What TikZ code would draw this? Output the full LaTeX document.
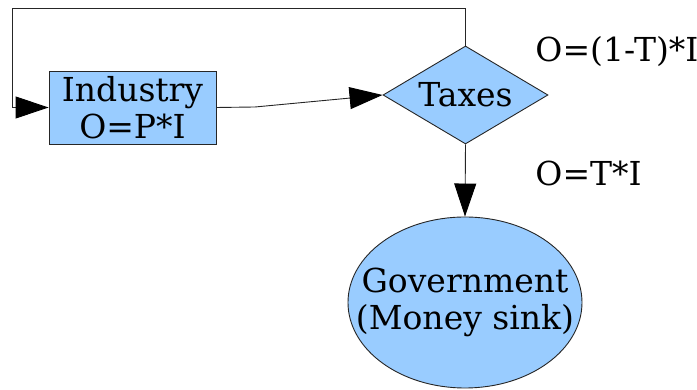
\documentclass[tikz,border=0pt]{standalone}
\usepackage{fontspec}
\setmainfont{DejaVu Serif}
\usetikzlibrary{positioning, arrows.meta, shapes.geometric}

\definecolor{boxblue}{HTML}{99CCFF}

\tikzset{
    block/.style={draw=black!85, fill=boxblue, align=center, inner sep=0pt},
    flow/.style={draw=black!85, line width=0.9pt, -{Triangle[length=33pt, width=22pt, color=black]}},
    flowtext/.style={anchor=west, inner sep=0pt}
}

\begin{document}
\begin{tikzpicture}[x=1pt, y=1pt, line width=0.9pt,
    font=\fontsize{33}{37}\selectfont]
    \useasboundingbox (0,0) rectangle (697,390);

    % blocks
    \node[block, rectangle, minimum width=167pt, minimum height=73pt]
        (industry) at (132.5,282.5) {Industry\\O=P*I};
    \node[block, diamond, aspect=1.68, minimum width=165pt, minimum height=98pt]
        (taxes) at (465.5,295) {Taxes};
    \node[block, ellipse, inner xsep=-27pt, minimum width=234pt, minimum height=171pt]
        (govt) at (465,87.5) {Government\\(Money sink)};

    % helper points
    \coordinate (looptop) at (465.5,382);
    \coordinate (loopleft) at (12,382);
    \coordinate (bend) at (255,283);

    % connectors
    \draw[flow] (taxes.north) -- (looptop) -- (loopleft) |- (industry.west);
    \draw[flow] (industry.east) -- (bend) -- (taxes.west);
    \draw[flow] (taxes.south) -- (govt.north);

    % labels
    \node[flowtext] (keep) at (535,338) {O=(1-T)*I};
    \node[flowtext] (tax) at (535,217) {O=T*I};
\end{tikzpicture}
\end{document}
